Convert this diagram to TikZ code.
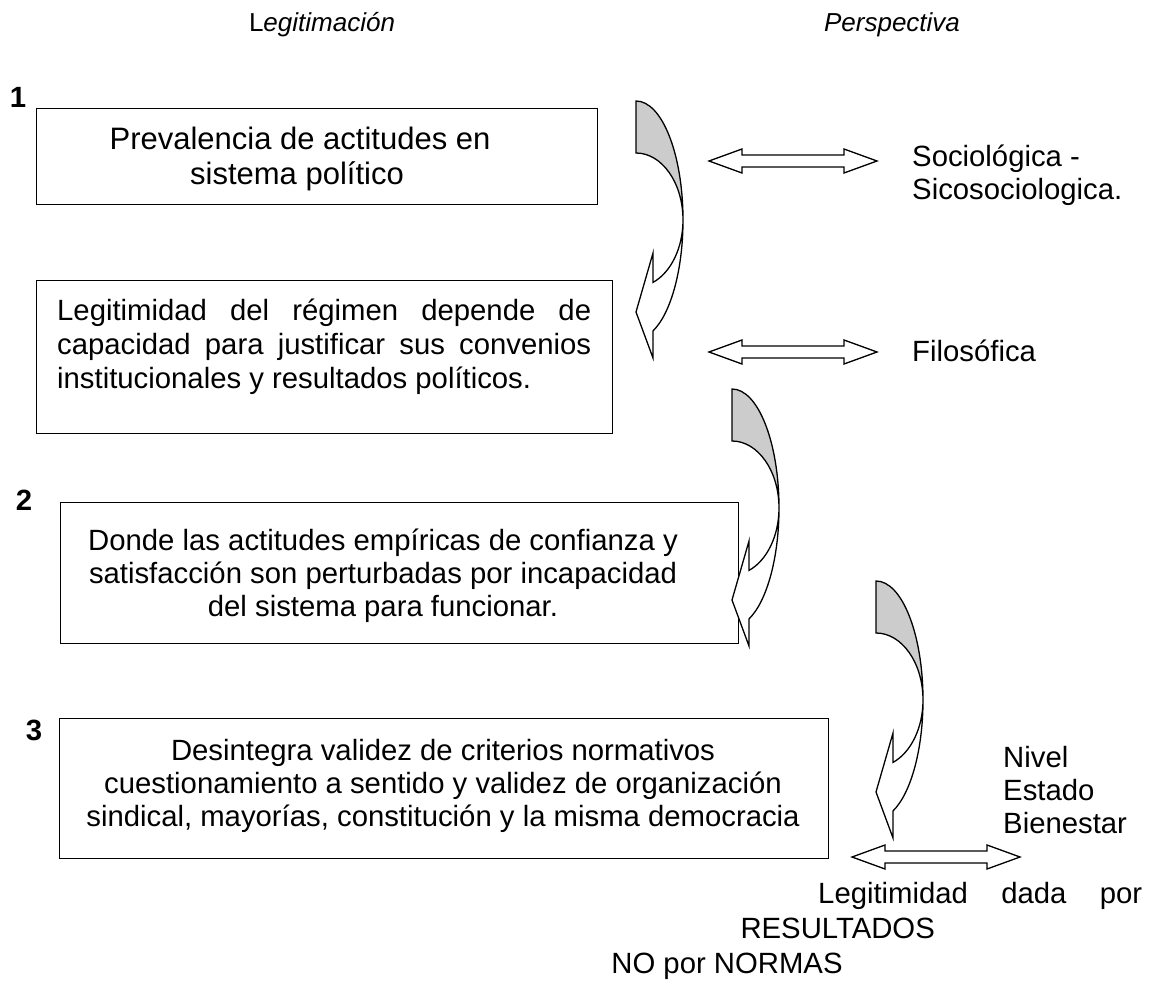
\documentclass[tikz,border=0pt]{standalone}
\usepackage{fontspec}
\setmainfont{Liberation Sans}
\definecolor{shadegray}{HTML}{CCCCCC}
\newcommand{\dblarrow}[1]{%
  \draw[shp, fill=white] (#1) -- ++(33,-12) -- ++(0,6) -- ++(102,0) -- ++(0,-6)
    -- ++(33,12) -- ++(-33,12) -- ++(0,-6) -- ++(-102,0) -- ++(0,6) -- cycle;}
\newcommand{\curvedarrow}[1]{%
  \begin{scope}[shift={(#1)}]
    \draw[shp, fill=white] (47,119) arc[start angle=0, end angle=68.8, x radius=47, y radius=119]
      -- (17,257) -- (0,211) -- (17,152) -- (17,181.4)
      arc[start angle=68.8, end angle=0, x radius=47, y radius=67] -- cycle;
    \draw[shp, fill=shadegray] (0,0) arc[start angle=-90, end angle=0, x radius=47, y radius=119]
      arc[start angle=0, end angle=-90, x radius=47, y radius=67] -- cycle;
  \end{scope}}
\begin{document}
\begin{tikzpicture}[x=1pt,y=-1pt,
  txt/.style={font=\fontsize{29.3}{33.7}\selectfont, inner sep=0pt, anchor=base},
  bigtxt/.style={font=\fontsize{31}{35}\selectfont, inner sep=0pt, anchor=base},
  ttl/.style={font=\fontsize{26}{30}\selectfont\itshape, inner sep=0pt, anchor=base},
  num/.style={font=\fontsize{29.3}{33.7}\selectfont\bfseries, inner sep=0pt, anchor=base},
  box/.style={draw, line width=1.3pt, anchor=north west, inner sep=0pt},
  shp/.style={draw, line width=1.3pt, line join=miter}]
\useasboundingbox (0,0) rectangle (1159,987);

% titles
\node[ttl] (tleg) at (322,32) {\upshape L\itshape egitimación};
\node[ttl] (tper) at (892,32) {Perspectiva};

% numbers
\node[num] (n1) at (18,108) {1};
\node[num] (n2) at (24,510) {2};
\node[num] (n3) at (34,740) {3};

% boxes
\node[box, minimum width=561, minimum height=96] (b1) at (36,108) {};
\node[box, minimum width=576, minimum height=153] (b2) at (36,280) {};
\node[box, minimum width=678, minimum height=141] (b3) at (60,502) {};
\node[box, minimum width=769, minimum height=140] (b4) at (59,718) {};

% box texts
\node[bigtxt] (t1a) at (300,150) {Prevalencia de actitudes en};
\node[bigtxt] (t1b) at (297,185) {sistema político};

\node[txt, anchor=base west] (t2a) at (57,320) {\makebox[534pt][s]{Legitimidad del régimen depende de}};
\node[txt, anchor=base west] (t2b) at (57,354) {\makebox[534pt][s]{capacidad para justificar sus convenios}};
\node[txt, anchor=base west] (t2c) at (57,388) {institucionales y resultados políticos.};

\node[txt] (t3a) at (383,550) {Donde las actitudes empíricas de confianza y};
\node[txt] (t3b) at (383,583) {satisfacción son perturbadas por incapacidad};
\node[txt] (t3c) at (383,616) {del sistema para funcionar.};

\node[txt] (t4a) at (443,760) {Desintegra validez de criterios normativos};
\node[txt] (t4b) at (443,793) {cuestionamiento a sentido y validez de organización};
\node[txt] (t4c) at (443,826) {sindical, mayorías, constitución y la misma democracia};

% right column texts
\node[txt, anchor=base west] (p1a) at (912,167) {Sociológica -};
\node[txt, anchor=base west] (p1b) at (912,200) {Sicosociologica.};
\node[txt, anchor=base west] (p2) at (912,361) {Filosófica};
\node[txt, anchor=base west] (p3a) at (1003,767) {Nivel};
\node[txt, anchor=base west] (p3b) at (1003,800) {Estado};
\node[txt, anchor=base west] (p3c) at (1003,833) {Bienestar};

\node[txt, anchor=base west] (r1) at (818,903) {\makebox[324pt][s]{Legitimidad dada por}};
\node[txt, anchor=base east] (r2) at (935,938) {RESULTADOS};
\node[txt] (r3) at (727,973) {NO por NORMAS};

% curved arrows
\curvedarrow{636,101}
\curvedarrow{732,389}
\curvedarrow{876,581}

% double arrows
\coordinate (d1) at (709,161);
\coordinate (d2) at (709,352);
\coordinate (d3) at (852,857);
\dblarrow{d1}
\dblarrow{d2}
\dblarrow{d3}
\end{tikzpicture}
\end{document}
